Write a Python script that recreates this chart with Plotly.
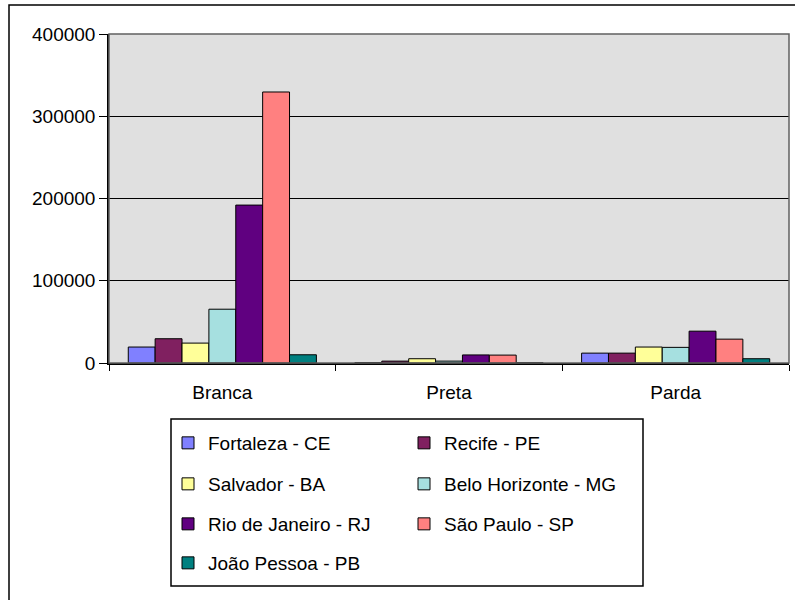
import plotly.graph_objects as go

# Population by colour/race group, per metropolitan capital
categories = ["Branca", "Preta", "Parda"]
cities = [
    "Fortaleza - CE",
    "Recife - PE",
    "Salvador - BA",
    "Belo Horizonte - MG",
    "Rio de Janeiro - RJ",
    "São Paulo - SP",
    "João Pessoa - PB",
]
fortaleza = [19400, 600, 12000]
recife = [29500, 2300, 12000]
salvador = [24200, 5200, 19400]
belo_horizonte = [65400, 2300, 19000]
rio_de_janeiro = [192000, 9800, 38700]
sao_paulo = [329500, 9600, 29000]
joao_pessoa = [10000, 400, 5200]

series = [fortaleza, recife, salvador, belo_horizonte, rio_de_janeiro, sao_paulo, joao_pessoa]
colors = ["#8080FF", "#802060", "#FFFF99", "#A6E0E0", "#600080", "#FF8080", "#008080"]
# legend rows (two entries per row)
legend_ids = ["legend", "legend", "legend2", "legend2", "legend3", "legend3", "legend4"]

y_ticks = [0, 100000, 200000, 300000, 400000]

FONT = "Liberation Sans, Arial, sans-serif"
W, H = 795, 600
L, R, T, B = 109, 6, 34, 237
PW, PH = W - L - R, H - T - B


def px_x(x):
    return (x - L) / PW


def px_y(y):
    return (H - B - y) / PH


fig = go.Figure()
for name, vals, col, lg in zip(cities, series, colors, legend_ids):
    fig.add_trace(go.Bar(
        x=categories, y=vals, name=name, legend=lg,
        marker=dict(color=col, line=dict(color="black", width=1)),
    ))

legend_common = dict(
    orientation="h", xanchor="left", yanchor="middle", x=px_x(168),
    entrywidth=191, entrywidthmode="pixels",
    bgcolor="rgba(0,0,0,0)", borderwidth=0,
    font=dict(family=FONT, size=19, color="black"),
)
row_centers = [443, 484, 524, 563]

fig.update_layout(
    width=W, height=H,
    margin=dict(l=L, r=R, t=T, b=B, autoexpand=False),
    paper_bgcolor="white",
    plot_bgcolor="#E0E0E0",
    barmode="group", bargap=0.17, bargroupgap=0,
    font=dict(family=FONT, size=19, color="black"),
    legend=dict(y=px_y(row_centers[0]), **legend_common),
    legend2=dict(y=px_y(row_centers[1]), **legend_common),
    legend3=dict(y=px_y(row_centers[2]), **legend_common),
    legend4=dict(y=px_y(row_centers[3]), **legend_common),
    xaxis=dict(
        type="category", tickson="boundaries", ticks="outside", ticklen=6,
        tickcolor="black", showline=True, linecolor="black", linewidth=1.5,
        showgrid=False, ticklabelstandoff=11,
        tickfont=dict(family=FONT, size=19, color="black"),
    ),
    yaxis=dict(
        range=[0, 400000], tickvals=y_ticks, tickformat="d",
        ticks="outside", ticklen=8, tickcolor="black",
        showline=True, linecolor="black", linewidth=1.5,
        showgrid=True, gridcolor="black", gridwidth=1, zeroline=False,
        tickfont=dict(family=FONT, size=19, color="black"),
    ),
    shapes=[
        # outer chart frame
        dict(type="rect", xref="paper", yref="paper",
             x0=px_x(9), x1=px_x(797), y0=px_y(605), y1=px_y(5),
             line=dict(color="black", width=1.5), layer="above"),
        # plot-area border
        dict(type="rect", xref="paper", yref="paper",
             x0=0, x1=1, y0=0, y1=1,
             line=dict(color="#606060", width=1.5), layer="above"),
        # legend box
        dict(type="rect", xref="paper", yref="paper",
             x0=px_x(171), x1=px_x(643), y0=px_y(586), y1=px_y(419),
             line=dict(color="black", width=1.5), layer="above"),
    ],
)

fig.write_html("out.html")
